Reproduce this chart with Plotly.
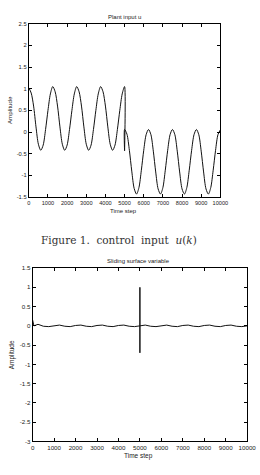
import plotly.graph_objects as go

# ---------------- data ----------------
# Plant input u(k)
u_k = [0, 125, 250, 375, 500, 625, 750, 875, 1000, 1125,
       1250, 1375, 1500, 1625, 1750, 1875, 2000, 2125, 2250, 2375,
       2500, 2625, 2750, 2875, 3000, 3125, 3250, 3375, 3500, 3625,
       3750, 3875, 4000, 4125, 4250, 4375, 4500, 4625, 4750, 4875,
       5000, 5000, 5000,
       5125, 5250, 5375, 5500, 5625, 5750, 5875, 6000, 6125,
       6250, 6375, 6500, 6625, 6750, 6875, 7000, 7125, 7250, 7375,
       7500, 7625, 7750, 7875, 8000, 8125, 8250, 8375, 8500, 8625,
       8750, 8875, 9000, 9125, 9250, 9375, 9500, 9625, 9750, 9875,
       10000]
u_vals = [1.02, 0.90, 0.60, 0.12, -0.28, -0.42, -0.30, 0.06, 0.50, 0.88,
          1.05, 0.93, 0.60, 0.12, -0.28, -0.42, -0.30, 0.06, 0.50, 0.88,
          1.05, 0.93, 0.60, 0.12, -0.28, -0.42, -0.30, 0.06, 0.50, 0.88,
          1.05, 0.93, 0.60, 0.12, -0.28, -0.42, -0.30, 0.06, 0.50, 0.88,
          1.05, -0.43, 0.06,
          -0.05, -0.42, -0.90, -1.30, -1.43, -1.28, -0.88, -0.42, -0.06,
          0.06, -0.06, -0.44, -0.92, -1.31, -1.43, -1.28, -0.88, -0.42, -0.06,
          0.06, -0.06, -0.44, -0.92, -1.31, -1.43, -1.28, -0.88, -0.42, -0.06,
          0.06, -0.06, -0.44, -0.92, -1.31, -1.43, -1.28, -0.88, -0.42, -0.06,
          0.05]

# Sliding surface variable s(k)
s_k = [0, 60, 250, 500, 750, 1000, 1250, 1500, 1750, 2000, 2250, 2500,
       2750, 3000, 3250, 3500, 3750, 4000, 4250, 4500, 4750,
       5000, 5000, 5000, 5000,
       5250, 5500, 5750, 6000, 6250, 6500, 6750, 7000, 7250, 7500,
       7750, 8000, 8250, 8500, 8750, 9000, 9250, 9500, 9750, 10000]
s_vals = [0.15, 0.0, 0.04, -0.01, -0.02, 0.0, 0.02, -0.01, -0.02, 0.01, 0.02, -0.01,
          -0.02, 0.01, 0.02, -0.01, -0.02, 0.01, 0.02, -0.01, -0.02,
          0.0, 1.0, -0.7, 0.0,
          0.02, -0.01, -0.02, 0.01, 0.02, -0.01, -0.02, 0.01, 0.02, -0.01,
          -0.02, 0.01, 0.02, -0.01, -0.02, 0.01, 0.02, -0.01, -0.02, 0.0]

x_ticks = [0, 1000, 2000, 3000, 4000, 5000, 6000, 7000, 8000, 9000, 10000]
x_labels = ["0", "1000", "2000", "3000", "4000", "5000", "6000", "7000", "8000", "9000", "10000"]
y1_ticks = [-1.5, -1, -0.5, 0, 0.5, 1, 1.5, 2, 2.5]
y1_labels = ["-1.5", "-1", "-0.5", "0", "0.5", "1", "1.5", "2", "2.5"]
y2_ticks = [-3, -2.5, -2, -1.5, -1, -0.5, 0, 0.5, 1, 1.5]
y2_labels = ["-3", "-2.5", "-2", "-1.5", "-1", "-0.5", "0", "0.5", "1", "1.5"]

# ---------------- figure ----------------
W, H = 260, 475
fig = go.Figure()

fig.add_trace(go.Scatter(x=u_k, y=u_vals, mode="lines", xaxis="x", yaxis="y",
                         line=dict(color="#111", width=1, shape="spline", smoothing=0.8),
                         hoverinfo="skip", showlegend=False))
fig.add_trace(go.Scatter(x=s_k, y=s_vals, mode="lines", xaxis="x2", yaxis="y2",
                         line=dict(color="#111", width=1),
                         hoverinfo="skip", showlegend=False))

def tf(size):
    return dict(family="Liberation Sans, Arial, sans-serif", size=size, color="#222")

def common(size):
    return dict(showgrid=False, zeroline=False, showline=True, linecolor="black", linewidth=1,
                mirror="ticks", ticks="inside", ticklen=3, tickcolor="black", tickwidth=0.8,
                tickfont=tf(size), fixedrange=True)

def px_x(p):
    return p / W

def px_y(p):
    return 1 - p / H

fig.update_layout(
    width=W, height=H,
    margin=dict(l=0, r=0, t=0, b=0),
    paper_bgcolor="white", plot_bgcolor="white",
    xaxis=dict(domain=[px_x(28), px_x(228)], range=[0, 10000], anchor="y",
               tickvals=x_ticks, ticktext=x_labels, ticklabeloverflow="allow", **common(5.6)),
    yaxis=dict(domain=[px_y(196), px_y(20)], range=[-1.5, 2.5], anchor="x",
               tickvals=y1_ticks, ticktext=y1_labels, **common(5.8)),
    xaxis2=dict(domain=[px_x(32), px_x(256)], range=[0, 10000], anchor="y2",
                tickvals=x_ticks, ticktext=x_labels, ticklabeloverflow="allow", **common(6.2)),
    yaxis2=dict(domain=[px_y(444), px_y(268)], range=[-3, 1.5], anchor="x2",
                tickvals=y2_ticks, ticktext=y2_labels, **common(6.2)),
)

ann = [
    dict(text="Plant input u", x=px_x(128), y=px_y(13), font=tf(6)),
    dict(text="Time step", x=px_x(127), y=px_y(210), font=tf(6)),
    dict(text="Amplitude", x=px_x(8), y=px_y(108), font=tf(6.2), textangle=-90),
    dict(text="Figure 1.  control  input  <i>u</i>(<i>k</i>)", x=px_x(122), y=px_y(240),
         font=dict(family="DejaVu Serif, Liberation Serif, serif", size=10.5, color="#333")),
    dict(text="Sliding surface variable", x=px_x(143), y=px_y(261), font=tf(6)),
    dict(text="Time step", x=px_x(143), y=px_y(459), font=tf(6.5)),
    dict(text="Amplitude", x=px_x(10), y=px_y(356), font=tf(6.5), textangle=-90),
]
for a in ann:
    fig.add_annotation(xref="paper", yref="paper", showarrow=False,
                       xanchor="center", yanchor="middle", **a)

fig.write_html("out.html")
